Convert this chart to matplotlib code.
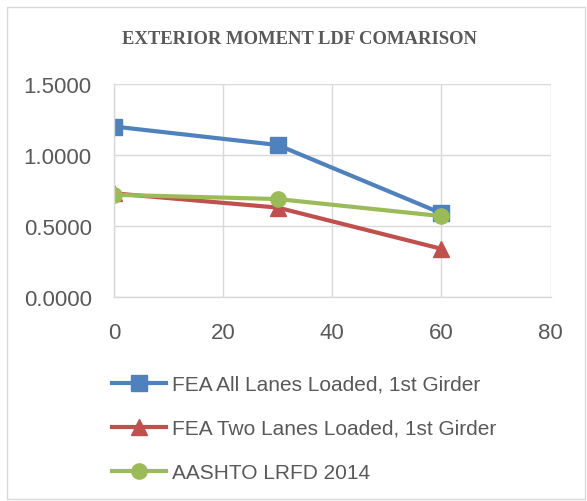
import matplotlib
matplotlib.use("Agg")
import matplotlib.pyplot as plt
from matplotlib.patches import Rectangle

x = [0, 30, 60]
fea_all = [1.20, 1.07, 0.59]
fea_two = [0.73, 0.63, 0.34]
aashto = [0.72, 0.69, 0.57]
labels = ["FEA All Lanes Loaded, 1st Girder", "FEA Two Lanes Loaded, 1st Girder", "AASHTO LRFD 2014"]
title = "EXTERIOR MOMENT LDF COMARISON"

fig = plt.figure(figsize=(5.87, 5.02), dpi=100)
fig.patches.append(Rectangle((0.012, 0.004), 0.985, 0.98, transform=fig.transFigure,
                             fill=False, edgecolor="#d9d9d9", linewidth=1.0))
ax = fig.add_axes([0.194, 0.406, 0.744, 0.425])

ax.plot(x, fea_all, color="#4f81bd", marker="s", markersize=11, linewidth=3, label=labels[0])
ax.plot(x, fea_two, color="#c0504d", marker="^", markersize=11, linewidth=3, label=labels[1])
ax.plot(x, aashto, color="#9bbb59", marker="o", markersize=11, linewidth=3, label=labels[2])

ax.set_xlim(0, 80)
ax.set_ylim(0, 1.5)
ax.set_xticks([0, 20, 40, 60, 80])
ax.set_yticks([0, 0.5, 1.0, 1.5])
ax.set_yticklabels([f"{v:.4f}" for v in [0, 0.5, 1.0, 1.5]])
ax.grid(True, color="#d9d9d9", linewidth=1)
ax.set_axisbelow(True)
for s in ["top", "right"]:
    ax.spines[s].set_visible(False)
for s in ["left", "bottom"]:
    ax.spines[s].set_color("#d9d9d9")
    ax.spines[s].set_linewidth(1)
ax.tick_params(length=0, labelsize=16, colors="#595959")
ax.tick_params(axis="y", pad=16)
ax.tick_params(axis="x", pad=18)
for lab in ax.get_xticklabels() + ax.get_yticklabels():
    lab.set_family("Liberation Sans")

fig.text(0.51, 0.922, title, ha="center", va="center", family="Liberation Serif",
         fontweight="bold", fontsize=13.4, color="#595959")

leg = fig.legend(loc="upper left", bbox_to_anchor=(0.177, 0.268), frameon=False,
                 prop={"family": "Liberation Sans", "size": 15}, labelcolor="#595959",
                 handlelength=2.6, handletextpad=0.25, labelspacing=1.2, borderaxespad=0)

fig.savefig("out.png", dpi=100)
